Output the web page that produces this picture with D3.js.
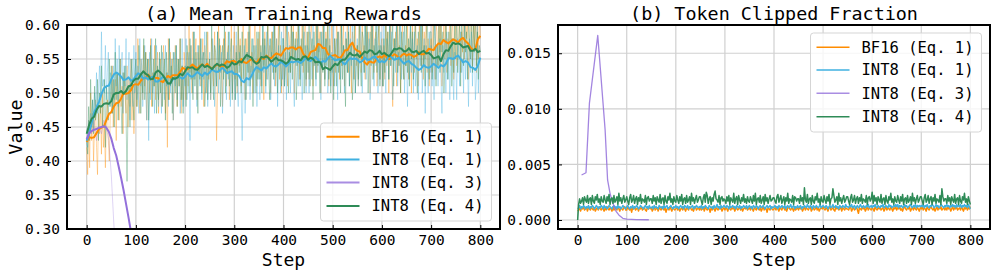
<!DOCTYPE html>
<html>
<head>
<meta charset="utf-8">
<script src="https://cdn.jsdelivr.net/npm/d3@7"></script>
<style>
  body { margin: 0; background: #fff; }
  svg { display: block; font-family: "DejaVu Sans Mono", monospace; }
</style>
</head>
<body>
<div id="chart"></div>
<script>
// ---------- data ----------
const seriesNames = ["BF16 (Eq. 1)", "INT8 (Eq. 1)", "INT8 (Eq. 3)", "INT8 (Eq. 4)"];
const xTicks = [0, 100, 200, 300, 400, 500, 600, 700, 800];
const rewardTicks = [0.30, 0.35, 0.40, 0.45, 0.50, 0.55, 0.60];
const clipTicks = [0.000, 0.005, 0.010, 0.015];

// smoothed rewards, one value every 5 steps (0..800)
const smoothBF16 = [
  .428,.435,.434,.435,.441,.447,.449,.451,.460,.469,.472,.480,.485,.486,.492,.500,.499,.500,.504,.512,
  .513,.512,.518,.522,.522,.527,.523,.520,.522,.522,.518,.516,.521,.525,.523,.526,.526,.526,.531,.537,
  .535,.535,.538,.542,.539,.536,.540,.542,.539,.543,.538,.536,.539,.542,.540,.537,.542,.547,.545,.547,
  .547,.544,.546,.550,.545,.544,.547,.550,.547,.544,.549,.552,.550,.555,.552,.551,.555,.558,.557,.555,
  .561,.566,.565,.567,.567,.564,.567,.567,.558,.553,.552,.560,.562,.563,.572,.571,.566,.566,.558,.554,
  .555,.556,.553,.551,.556,.563,.563,.570,.574,.565,.562,.561,.551,.545,.542,.547,.545,.545,.552,.554,
  .552,.556,.552,.550,.554,.557,.555,.551,.555,.558,.555,.557,.556,.553,.555,.560,.557,.557,.560,.565,
  .564,.563,.569,.573,.572,.578,.575,.573,.576,.579,.577,.574,.579,.581,.576,.573,.567,.563,.565,.579,
  .584];
const smoothInt8Eq1 = [
  .430,.440,.455,.471,.479,.487,.498,.507,.510,.511,.520,.527,.530,.528,.524,.519,.520,.523,.518,.520,
  .525,.529,.527,.521,.523,.520,.523,.524,.517,.517,.520,.524,.522,.514,.514,.520,.521,.523,.523,.521,
  .524,.529,.525,.524,.527,.531,.528,.525,.530,.527,.530,.535,.532,.531,.533,.537,.534,.529,.531,.532,
  .528,.528,.525,.518,.516,.522,.520,.525,.533,.538,.536,.533,.538,.536,.540,.544,.540,.539,.542,.546,
  .543,.539,.543,.546,.545,.547,.546,.544,.547,.552,.548,.547,.550,.553,.549,.544,.547,.546,.551,.555,
  .551,.548,.549,.550,.545,.542,.547,.551,.550,.551,.549,.545,.547,.552,.549,.549,.552,.554,.550,.545,
  .547,.545,.549,.555,.552,.549,.550,.552,.547,.543,.546,.547,.543,.541,.537,.534,.536,.541,.538,.537,
  .539,.543,.540,.537,.541,.539,.543,.551,.551,.550,.553,.555,.550,.545,.547,.545,.538,.537,.534,.540,
  .552];
const smoothInt8Eq4 = [
  .440,.453,.462,.465,.475,.481,.480,.484,.485,.484,.488,.498,.500,.500,.503,.499,.503,.510,.511,.518,
  .521,.521,.527,.532,.528,.526,.520,.521,.530,.533,.530,.526,.520,.514,.514,.522,.521,.523,.528,.526,
  .532,.538,.537,.538,.535,.534,.538,.542,.538,.540,.538,.535,.540,.543,.540,.542,.541,.537,.539,.545,
  .542,.543,.547,.545,.551,.556,.554,.552,.546,.543,.545,.553,.552,.554,.551,.546,.549,.552,.548,.548,
  .546,.543,.546,.553,.551,.549,.550,.548,.553,.554,.549,.552,.550,.545,.546,.545,.535,.538,.536,.534,
  .539,.543,.541,.546,.549,.549,.554,.559,.556,.555,.557,.553,.557,.561,.559,.563,.562,.557,.558,.562,
  .557,.559,.556,.554,.559,.565,.564,.566,.565,.561,.562,.566,.561,.560,.562,.557,.560,.562,.558,.559,
  .556,.551,.552,.554,.547,.557,.563,.562,.569,.574,.572,.573,.571,.567,.568,.569,.562,.562,.565,.560,
  .562];
// INT8 (Eq. 3) collapses early, one value every 5 steps from step 0
const smoothInt8Eq3 = [.432,.441,.444,.446,.447,.449,.450,.451,.449,.443,.433,.419,.408,.392,.375,.357,.337,.317,.296,.275,.254];
const rawInt8Eq3 = [.43,.45,.44,.46,.43,.45,.44,.46,.45,.43,.38,.31,.25];

// raw rewards, one value every 2 steps (0..800)
const rawBF16 = [
  .42,.38,.46,.39,.50,.43,.47,.40,.45,.49,.42,.38,.47,.44,.48,.41,.50,.42,.45,.39,.46,.49,.43,.40,.47,
  .47,.54,.45,.50,.52,.43,.53,.49,.46,.55,.48,.51,.44,.53,.50,.47,.54,.45,.52,.48,.55,.46,.51,.44,.49,
  .53,.48,.58,.50,.47,.55,.54,.49,.57,.51,.56,.46,.52,.55,.50,.58,.48,.53,.51,.57,.49,.54,.56,.47,.53,
  .55,.48,.51,.57,.54,.47,.53,.42,.58,.49,.56,.52,.55,.46,.50,.57,.53,.48,.55,.51,.58,.47,.54,.49,.56,
  .54,.49,.56,.51,.60,.53,.57,.50,.59,.52,.55,.58,.49,.56,.53,.60,.51,.54,.58,.48,.57,.55,.50,.59,.52,
  .55,.49,.58,.56,.51,.59,.53,.43,.50,.60,.52,.57,.54,.48,.58,.53,.59,.51,.56,.57,.49,.52,.60,.50,.55,
  .59,.52,.57,.50,.61,.54,.58,.51,.56,.60,.53,.49,.58,.55,.59,.52,.61,.53,.56,.50,.57,.60,.54,.51,.58,
  .53,.60,.51,.56,.58,.49,.59,.55,.52,.61,.54,.57,.50,.59,.56,.53,.60,.51,.58,.54,.61,.52,.57,.50,.55,
  .57,.52,.62,.54,.51,.59,.58,.53,.61,.55,.60,.50,.56,.59,.54,.62,.52,.57,.55,.61,.53,.58,.60,.51,.57,
  .59,.52,.55,.61,.58,.51,.57,.54,.62,.53,.60,.56,.59,.50,.54,.61,.57,.52,.59,.55,.62,.51,.58,.53,.60,
  .56,.51,.58,.53,.62,.55,.59,.52,.61,.54,.57,.60,.51,.58,.55,.62,.53,.56,.60,.50,.59,.57,.52,.61,.54,
  .57,.51,.60,.58,.53,.61,.55,.57,.52,.62,.54,.59,.56,.50,.60,.55,.61,.53,.58,.59,.51,.54,.62,.52,.57,
  .58,.51,.57,.52,.60,.54,.59,.50,.56,.61,.53,.48,.58,.56,.59,.51,.60,.54,.57,.50,.58,.60,.53,.52,.57,
  .54,.61,.52,.57,.59,.50,.60,.56,.53,.62,.55,.58,.51,.60,.57,.54,.61,.52,.59,.55,.62,.53,.58,.51,.56,
  .58,.53,.63,.55,.52,.60,.59,.54,.62,.56,.61,.51,.57,.60,.55,.63,.53,.58,.56,.62,.54,.59,.61,.52,.58,
  .61,.54,.57,.63,.60,.53,.59,.56,.64,.55,.62,.58,.61,.52,.56,.63,.59,.54,.61,.57,.64,.53,.60,.55,.62,
  .58];
const rawInt8Eq1 = [
  .43,.42,.46,.44,.47,.45,.49,.46,.50,.48,.53,.47,.50,.54,.49,.59,.51,.52,.50,.57,.49,.53,.56,.48,.53,
  .52,.47,.54,.49,.58,.51,.55,.48,.57,.50,.53,.56,.47,.54,.51,.58,.49,.52,.56,.46,.55,.53,.48,.57,.50,
  .56,.49,.54,.47,.58,.51,.55,.48,.53,.57,.50,.46,.55,.43,.56,.49,.58,.50,.53,.47,.54,.57,.51,.48,.55,
  .53,.47,.56,.54,.49,.57,.51,.53,.48,.58,.50,.55,.52,.46,.56,.51,.57,.49,.54,.55,.47,.50,.58,.48,.53,
  .51,.58,.49,.54,.56,.43,.57,.53,.50,.59,.52,.55,.48,.57,.54,.51,.58,.49,.56,.52,.59,.50,.55,.48,.53,
  .56,.49,.52,.58,.55,.48,.54,.51,.59,.50,.57,.53,.56,.47,.51,.58,.54,.49,.56,.52,.59,.48,.55,.50,.57,
  .54,.49,.59,.51,.48,.56,.55,.50,.43,.52,.57,.47,.53,.56,.51,.59,.49,.54,.52,.58,.50,.55,.57,.48,.54,
  .54,.49,.56,.51,.60,.53,.57,.50,.59,.52,.55,.58,.49,.56,.53,.60,.51,.54,.58,.48,.57,.55,.50,.59,.52,
  .58,.51,.56,.49,.60,.53,.57,.50,.55,.59,.52,.48,.57,.54,.58,.51,.60,.52,.55,.49,.56,.59,.53,.50,.57,
  .56,.50,.59,.57,.52,.60,.54,.56,.51,.61,.53,.58,.55,.49,.59,.54,.60,.52,.57,.58,.50,.53,.61,.51,.56,
  .53,.60,.51,.56,.58,.49,.59,.55,.52,.61,.54,.57,.50,.59,.56,.53,.60,.51,.58,.54,.61,.52,.57,.50,.55,
  .58,.51,.54,.60,.57,.50,.56,.53,.61,.52,.59,.55,.58,.49,.53,.60,.56,.51,.58,.54,.61,.50,.57,.52,.59,
  .56,.51,.61,.53,.50,.58,.57,.52,.60,.54,.59,.49,.55,.58,.53,.61,.51,.56,.54,.60,.52,.57,.59,.50,.56,
  .55,.48,.56,.52,.60,.53,.58,.50,.59,.51,.55,.57,.49,.56,.54,.60,.50,.54,.58,.47,.57,.56,.50,.59,.53,
  .57,.51,.55,.49,.60,.52,.57,.51,.55,.58,.52,.47,.57,.53,.58,.50,.59,.52,.56,.49,.55,.58,.53,.49,.56,
  .55,.49,.58,.56,.51,.59,.53,.55,.50,.60,.52,.57,.54,.48,.58,.53,.59,.51,.56,.57,.49,.52,.60,.50,.55,
  .55];
const rawInt8Eq4 = [
  .43,.41,.48,.43,.52,.45,.49,.44,.51,.46,.47,.52,.43,.50,.47,.54,.45,.48,.52,.42,.51,.49,.46,.55,.48,
  .54,.47,.52,.45,.56,.49,.53,.46,.51,.55,.48,.44,.53,.50,.54,.47,.37,.48,.51,.45,.52,.55,.49,.46,.53,
  .55,.48,.51,.57,.54,.47,.53,.50,.58,.49,.56,.52,.55,.46,.50,.57,.53,.48,.55,.51,.58,.47,.54,.49,.56,
  .50,.57,.48,.53,.55,.46,.56,.52,.49,.58,.51,.54,.47,.56,.53,.50,.57,.48,.55,.51,.58,.49,.54,.47,.52,
  .54,.48,.57,.55,.50,.58,.52,.54,.49,.59,.51,.56,.53,.47,.57,.52,.58,.50,.55,.56,.48,.51,.59,.49,.54,
  .55,.50,.60,.52,.49,.57,.56,.51,.59,.53,.58,.48,.54,.57,.52,.60,.50,.55,.53,.59,.51,.56,.58,.49,.55,
  .54,.49,.56,.51,.60,.53,.57,.50,.59,.52,.55,.58,.49,.56,.53,.60,.51,.54,.58,.48,.57,.55,.50,.59,.52,
  .59,.52,.57,.50,.61,.54,.58,.51,.56,.60,.53,.49,.58,.55,.59,.52,.61,.53,.56,.50,.57,.60,.54,.51,.58,
  .58,.51,.54,.60,.57,.50,.56,.53,.61,.52,.59,.55,.58,.49,.53,.60,.56,.51,.58,.54,.61,.50,.57,.52,.59,
  .53,.60,.51,.56,.58,.49,.59,.55,.52,.61,.54,.57,.50,.59,.56,.53,.60,.51,.58,.54,.61,.52,.57,.50,.55,
  .55,.49,.58,.56,.51,.59,.53,.55,.50,.60,.52,.57,.54,.48,.58,.53,.59,.51,.56,.57,.49,.52,.60,.50,.55,
  .57,.52,.62,.54,.51,.59,.58,.53,.61,.55,.60,.50,.56,.59,.54,.62,.52,.57,.55,.61,.53,.58,.60,.51,.57,
  .56,.51,.58,.53,.62,.55,.59,.52,.61,.54,.57,.60,.51,.58,.55,.62,.53,.56,.60,.50,.59,.57,.52,.61,.54,
  .60,.53,.58,.51,.62,.55,.59,.52,.57,.61,.54,.50,.59,.56,.60,.53,.62,.54,.57,.51,.58,.61,.55,.52,.59,
  .59,.52,.55,.61,.58,.51,.57,.54,.62,.53,.60,.56,.59,.50,.54,.61,.57,.52,.59,.55,.62,.51,.58,.53,.60,
  .55,.62,.53,.58,.60,.51,.61,.57,.54,.63,.56,.59,.52,.61,.58,.55,.62,.53,.60,.56,.63,.54,.59,.52,.57,
  .56];

// token clipped fraction in units of 1e-4, one value every 2 steps (0..800)
const CLIP_UNIT = 1e-4;
const clipBF16 = [
  8,9,11,8,11,10,12,9,10,11,8,11,10,9,12,10,9,11,8,10,11,9,12,10,9,
  11,10,8,11,9,12,10,9,11,10,8,12,9,10,11,9,12,10,8,11,10,9,11,12,9,
  9,12,10,9,11,7,11,10,12,9,10,11,8,11,10,12,9,10,11,9,8,11,10,12,10,
  11,8,10,12,9,10,11,8,11,10,9,12,10,9,11,7,10,11,9,12,10,8,11,10,9,
  10,12,9,11,8,10,11,9,12,10,8,11,10,9,12,11,9,10,8,11,12,9,10,11,9,
  12,9,10,11,8,12,10,9,11,10,7,11,9,12,10,8,11,10,9,12,10,11,8,10,11,
  9,11,10,8,12,10,9,11,10,12,8,10,11,9,10,12,9,11,8,10,11,10,12,9,10,
  11,9,12,10,8,11,10,9,12,10,9,11,8,10,12,9,11,10,7,11,10,9,12,10,9,
  10,11,9,12,10,8,11,10,9,12,11,9,10,8,11,12,10,9,11,10,8,12,9,10,11,
  9,12,10,11,8,10,12,9,11,10,9,11,12,8,10,11,9,10,12,9,11,8,10,11,10,
  12,10,9,11,10,8,11,12,9,10,11,9,8,12,10,11,9,10,12,8,11,10,9,11,10,
  10,9,11,12,8,10,11,9,10,12,9,6,11,10,9,12,10,11,8,10,12,9,11,10,9,
  11,10,8,12,10,9,11,10,12,9,10,11,8,10,12,9,11,10,9,12,10,8,11,10,12,
  9,11,10,12,9,10,8,11,12,10,9,11,10,12,8,10,11,9,12,10,9,11,10,8,11,
  10,12,9,11,10,8,12,10,9,11,12,10,9,11,8,10,12,9,11,10,12,9,10,11,9,
  11,9,12,10,11,8,10,12,9,11,10,12,9,10,11,9,12,10,8,11,10,12,9,11,10,
  12];
const clipInt8Eq1 = [
  10,11,13,10,12,11,13,12,10,12,11,13,10,12,11,13,12,10,11,13,12,10,12,11,13,
  12,10,13,11,12,10,11,13,12,11,10,12,13,11,12,10,13,11,12,10,11,13,12,11,10,
  12,13,11,10,12,11,13,10,12,11,13,12,10,11,13,12,11,10,12,13,11,12,10,13,11,
  11,12,10,13,11,12,11,10,13,12,11,12,10,13,11,12,13,10,11,12,13,11,10,12,11,
  13,11,12,10,12,13,11,12,10,13,12,11,13,10,12,11,12,13,10,12,11,13,12,11,12,
  11,13,10,12,11,13,12,11,10,13,12,11,12,10,13,11,12,14,11,12,10,13,11,12,13,
  12,11,13,12,10,13,11,12,13,11,12,10,13,12,11,13,10,12,11,13,12,11,13,10,12,
  13,11,12,10,13,12,11,13,12,10,12,13,11,12,13,11,10,12,13,11,12,13,10,12,11,
  12,13,11,12,10,13,12,11,13,12,11,13,10,12,13,11,12,14,11,12,13,10,12,11,13,
  11,12,13,10,12,11,13,12,11,14,12,11,13,12,10,13,12,11,13,12,11,12,14,11,12,
  13,12,11,13,12,10,12,13,11,12,14,11,12,13,11,12,10,13,12,11,13,12,11,14,12,
  12,11,13,12,14,11,12,13,10,12,13,11,12,14,12,11,13,12,11,13,12,14,11,12,13,
  11,13,12,14,12,11,13,12,11,13,12,14,11,12,13,12,11,14,12,13,11,12,13,12,14,
  12,14,11,13,12,13,11,12,14,12,13,11,12,13,14,12,11,13,12,14,11,13,12,13,12,
  13,12,14,11,13,12,14,12,11,13,12,14,13,11,12,14,12,13,11,12,14,13,12,11,13,
  12,14,12,13,11,13,12,14,12,13,11,14,12,13,12,14,11,13,12,14,12,13,11,14,12,
  10];
const clipInt8Eq4 = [
  0,14,19,15,17,20,14,21,18,16,22,15,19,20,14,22,17,15,21,18,23,16,19,14,21,
  17,16,22,18,15,21,17,23,14,19,20,15,22,16,18,21,14,24,17,20,15,19,22,16,18,
  21,17,14,20,23,16,18,22,15,19,21,14,20,17,23,15,19,18,16,22,14,20,21,17,19,
  19,15,22,17,20,14,21,18,16,23,15,19,20,14,22,17,15,21,18,24,16,19,14,21,17,
  16,22,18,15,21,17,23,14,19,20,15,22,16,18,21,14,24,17,20,15,19,22,16,18,21,
  21,17,14,20,23,16,25,22,15,19,21,14,20,17,23,26,19,18,16,22,14,20,21,17,19,
  18,15,21,17,22,14,20,18,16,24,15,19,21,14,22,18,15,20,17,23,16,19,15,21,17,
  16,21,18,15,22,17,24,14,19,20,16,22,15,18,21,14,23,17,20,15,19,22,17,18,20,
  20,17,15,21,23,16,19,22,15,18,21,14,20,17,24,15,19,18,16,22,14,21,20,17,19,
  19,15,22,17,20,14,29,18,16,23,15,19,20,14,22,17,15,21,18,24,16,19,14,21,17,
  16,22,18,15,21,17,23,14,19,20,28,22,16,18,21,14,24,17,20,15,19,22,16,18,21,
  21,17,14,20,23,16,18,22,15,19,21,15,20,17,23,15,19,18,16,22,14,20,21,17,19,
  25,15,22,17,20,14,21,18,16,23,15,19,20,14,22,17,15,21,18,24,16,19,14,21,17,
  16,22,18,15,21,17,23,14,19,20,15,22,16,18,21,14,24,17,20,15,19,22,16,18,21,
  21,17,14,20,23,16,18,22,15,19,21,14,20,17,23,15,19,18,16,22,14,28,21,17,19,
  19,15,22,17,20,14,21,18,16,23,15,19,20,14,22,17,15,21,18,24,16,19,14,21,17,
  14];
// INT8 (Eq. 3) spike and decay (units of 1e-4)
const clipEq3Steps = [8, 17, 24, 41, 56, 61, 66, 71, 78, 85, 92, 100, 120, 145];
const clipEq3Values = [40.5, 42.5, 105, 166, 81, 36, 24, 16, 8, 4, 1.5, 0.8, 0.4, 0.2];

// ---------- layout ----------
const W = 997, H = 276;
const colors = ["#ff8c00", "#3fb0e0", "#9370db", "#2e8b57"];
const font = '"DejaVu Sans Mono", monospace';

const svg = d3.select("#chart").append("svg")
  .attr("width", W).attr("height", H);

const steps2 = d3.range(0, 801, 2);
const steps5 = d3.range(0, 801, 5);

function panel(opts) {
  const { x0, x1, y0, y1, yDomain, yTicks, yFmt, title, id } = opts;
  const x = d3.scaleLinear().domain([-40, 840]).range([x0, x1]);
  const y = d3.scaleLinear().domain(yDomain).range([y1, y0]);
  const g = svg.append("g");

  g.append("clipPath").attr("id", id)
    .append("rect").attr("x", x0).attr("y", y0).attr("width", x1 - x0).attr("height", y1 - y0);

  // grid
  g.append("g").selectAll("line").data(xTicks).join("line")
    .attr("x1", d => x(d)).attr("x2", d => x(d)).attr("y1", y0).attr("y2", y1)
    .attr("stroke", "#d0d0d0").attr("stroke-width", 1.2);
  g.append("g").selectAll("line").data(yTicks).join("line")
    .attr("x1", x0).attr("x2", x1).attr("y1", d => y(d)).attr("y2", d => y(d))
    .attr("stroke", "#d0d0d0").attr("stroke-width", 1.2);

  const plot = g.append("g").attr("clip-path", `url(#${id})`);

  // axes with inward ticks
  const ax = g.append("g").attr("transform", `translate(0,${y1})`)
    .call(d3.axisBottom(x).tickValues(xTicks).tickSize(-4).tickPadding(6));
  const ay = g.append("g").attr("transform", `translate(${x0},0)`)
    .call(d3.axisLeft(y).tickValues(yTicks).tickFormat(d3.format(yFmt)).tickSize(-4).tickPadding(7));
  [ax, ay].forEach(a => {
    a.select(".domain").remove();
    a.selectAll("line").attr("stroke", "#000").attr("stroke-width", 1);
    a.selectAll("text").attr("font-family", font).attr("font-size", 14.5).attr("fill", "#000");
  });

  g.append("rect").attr("x", x0).attr("y", y0).attr("width", x1 - x0).attr("height", y1 - y0)
    .attr("fill", "none").attr("stroke", "#000").attr("stroke-width", 2);

  g.append("text").attr("x", (x0 + x1) / 2).attr("y", 19.5)
    .attr("text-anchor", "middle").attr("font-family", font).attr("font-size", 18.4)
    .text(title);
  g.append("text").attr("x", (x0 + x1) / 2).attr("y", 266)
    .attr("text-anchor", "middle").attr("font-family", font).attr("font-size", 18)
    .text("Step");

  return { x, y, plot, g };
}

function drawLine(p, xs, ys, color, width, opacity, scaleBy = 1) {
  const pts = xs.map((s, i) => [s, ys[i] * scaleBy]);
  p.plot.append("path").datum(pts)
    .attr("d", d3.line().x(d => p.x(d[0])).y(d => p.y(d[1])))
    .attr("fill", "none").attr("stroke", color)
    .attr("stroke-width", width).attr("stroke-opacity", opacity)
    .attr("stroke-linejoin", "round");
}

function legend(g, lx, ly, lw, lh, rowY, lineW) {
  const lg = g.append("g");
  lg.append("rect").attr("x", lx).attr("y", ly).attr("width", lw).attr("height", lh)
    .attr("rx", 3).attr("fill", "#fff").attr("fill-opacity", 0.8)
    .attr("stroke", "#d5d5d5").attr("stroke-width", 1);
  seriesNames.forEach((n, i) => {
    lg.append("line").attr("x1", lx + 6).attr("x2", lx + 39)
      .attr("y1", rowY[i]).attr("y2", rowY[i])
      .attr("stroke", colors[i]).attr("stroke-width", lineW).attr("stroke-opacity", i === 2 ? 0.8 : 1);
    lg.append("text").attr("x", lx + 51).attr("y", rowY[i]).attr("dy", "0.35em")
      .attr("font-family", font).attr("font-size", 15.5).text(n);
  });
}

// ---------- (a) rewards ----------
const pa = panel({ x0: 67, x1: 500, y0: 25, y1: 229, yDomain: [0.3, 0.6],
  yTicks: rewardTicks, yFmt: ".2f", title: "(a) Mean Training Rewards", id: "clipA" });

drawLine(pa, steps2, rawBF16, colors[0], 1, 0.35);
drawLine(pa, steps2, rawInt8Eq1, colors[1], 1, 0.35);
drawLine(pa, steps5.slice(0, rawInt8Eq3.length), rawInt8Eq3, colors[2], 1, 0.3);
drawLine(pa, steps2, rawInt8Eq4, colors[3], 1, 0.35);

drawLine(pa, steps5, smoothBF16, colors[0], 2, 1);
drawLine(pa, steps5, smoothInt8Eq1, colors[1], 2, 1);
drawLine(pa, steps5.slice(0, smoothInt8Eq3.length), smoothInt8Eq3, colors[2], 2, 1);
drawLine(pa, steps5, smoothInt8Eq4, colors[3], 2, 1);

pa.g.append("text")
  .attr("transform", `translate(22,127) rotate(-90)`)
  .attr("text-anchor", "middle").attr("font-family", font).attr("font-size", 18.4)
  .text("Value");

legend(pa.g, 320.5, 123, 171, 98, [136.7, 159.5, 182.5, 206], 2);

// ---------- (b) clipped fraction ----------
const pb = panel({ x0: 558, x1: 990, y0: 25, y1: 229, yDomain: [-0.00081, 0.01754],
  yTicks: clipTicks, yFmt: ".3f", title: "(b) Token Clipped Fraction", id: "clipB" });

drawLine(pb, steps2, clipBF16, colors[0], 1.5, 1, CLIP_UNIT);
drawLine(pb, steps2, clipInt8Eq1, colors[1], 1.5, 1, CLIP_UNIT);
drawLine(pb, clipEq3Steps, clipEq3Values, colors[2], 1.3, 0.85, CLIP_UNIT);
drawLine(pb, steps2, clipInt8Eq4, colors[3], 1.5, 1, CLIP_UNIT);

legend(pb.g, 810.5, 33, 171, 99, [47.3, 70, 93.3, 116.7], 1.5);
</script>
</body>
</html>
